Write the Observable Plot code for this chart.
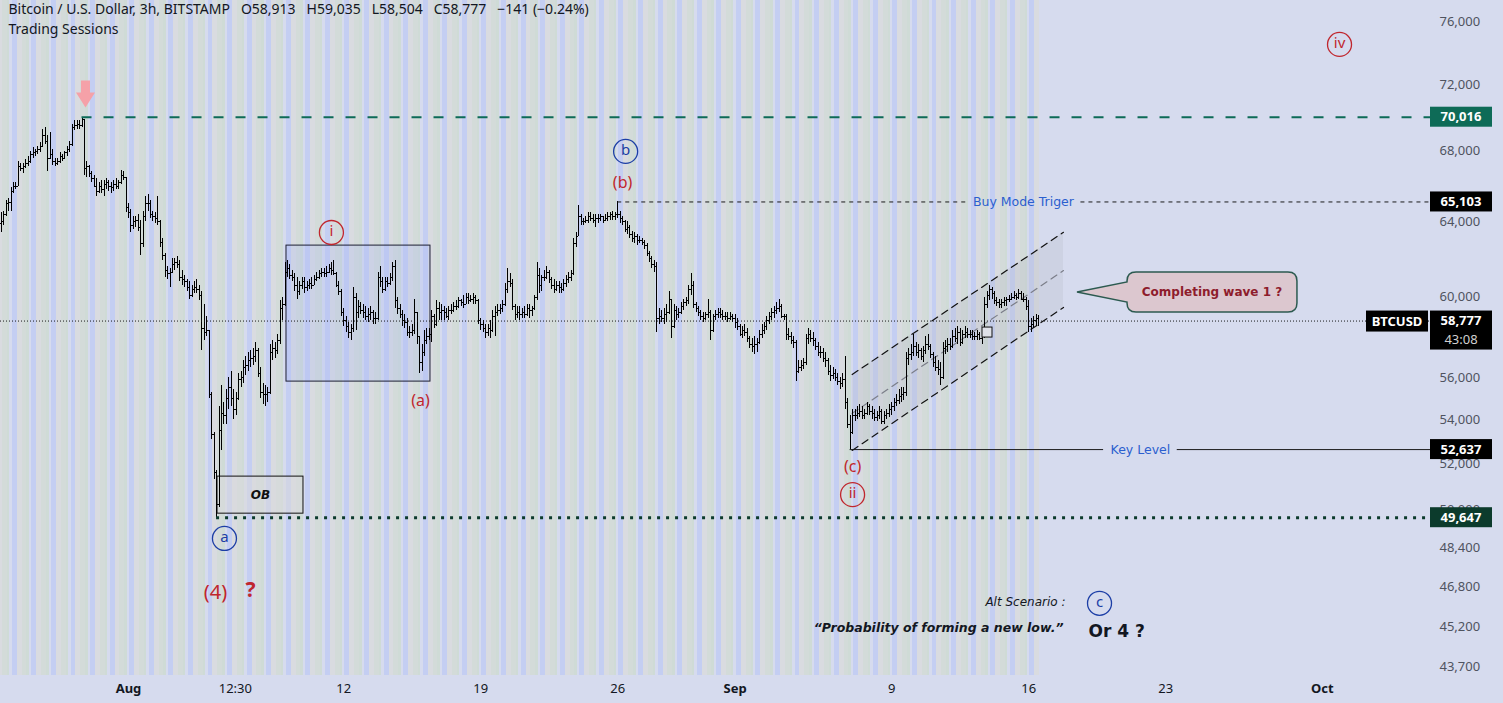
<!DOCTYPE html>
<html>
<head>
<meta charset="utf-8">
<script src="https://cdn.jsdelivr.net/npm/d3@7"></script>
<script src="https://cdn.jsdelivr.net/npm/@observablehq/plot@0.6"></script>
<style>
  html, body { margin:0; padding:0; background:#d6dbee; }
  #chart { width:1503px; height:703px; overflow:hidden; }
  #chart svg { display:block; }
</style>
</head>
<body>
<div id="chart"></div>
<script>
// ================= DATA =================
// BTCUSD 3h bars, prices in thousands of USD; open of a bar = previous close
const firstBarTime = "2024-07-25T12:00Z";
const barHours = 3;
const firstOpen = 63.9;

const highs = [
 64.5,64.6,65.2,65.3,
 65.9,66.2,66.2,67.4,67.3,67.3,67.5,67.7,
 68.0,68.2,68.1,68.3,68.5,69.3,69.4,68.9,
 69.1,68.1,67.6,67.6,67.9,67.8,68.0,68.3,
 68.6,69.6,69.8,69.8,69.8,70.016,69.9,67.4,
 67.2,66.8,66.6,66.4,66.2,66.3,66.3,66.4,
 66.3,66.2,66.3,66.4,66.3,66.9,66.8,66.5,
 65.0,64.7,64.3,64.3,64.4,64.1,64.6,65.4,
 65.5,65.2,64.6,64.5,65.4,64.1,63.1,62.3,
 61.6,61.5,62.0,62.0,62.1,61.9,61.4,61.1,
 60.9,60.8,60.6,60.8,60.9,60.6,60.3,59.6,
 59.0,58.3,55.3,53.4,51.7,54.6,55.6,54.8,
 55.4,56.0,56.3,55.4,55.3,56.2,56.3,56.8,
 57.0,57.2,57.3,57.4,57.7,57.4,56.5,55.7,
 55.6,55.5,57.6,57.8,57.7,58.1,59.8,60.0,
 61.8,61.9,61.7,61.4,61.2,61.0,60.8,61.0,
 61.0,60.8,60.9,61.0,61.1,61.3,61.4,61.5,
 61.5,61.6,61.7,61.8,61.9,61.3,60.8,60.4,
 59.4,59.0,58.7,58.6,60.5,60.2,59.8,59.7,
 59.6,59.5,59.4,59.5,59.3,59.2,61.3,61.6,
 61.0,61.0,61.0,61.2,61.8,61.9,60.0,59.6,
 59.3,59.1,58.9,58.5,58.6,59.9,59.2,58.0,
 57.6,58.3,58.4,58.4,59.3,59.1,59.8,59.7,
 59.6,59.5,59.4,59.5,59.6,59.7,59.8,60.0,
 59.9,60.1,60.2,60.2,60.1,60.2,60.1,59.9,
 58.9,58.8,58.6,58.6,58.8,59.3,59.5,59.6,
 59.6,59.8,60.7,61.5,61.2,60.9,59.6,59.5,
 59.5,59.4,59.5,59.6,59.6,59.5,60.1,61.8,
 61.5,61.1,61.4,61.6,61.4,61.0,60.9,60.8,
 60.8,60.7,60.9,61.1,61.3,61.4,63.1,63.4,
 64.9,64.4,64.2,64.3,64.5,64.5,64.4,64.4,
 64.4,64.4,64.3,64.4,64.5,64.5,64.6,64.5,
 65.103,64.6,64.3,64.1,64.0,63.8,63.5,63.4,
 63.3,63.2,63.1,63.0,62.8,62.4,62.1,61.9,
 61.8,59.4,59.3,59.4,59.6,60.3,59.9,59.6,
 59.5,59.4,59.7,59.9,60.0,60.6,61.2,60.8,
 59.7,59.5,59.3,59.2,59.2,59.9,59.3,59.1,
 59.3,59.4,59.4,59.3,59.2,59.2,59.2,59.1,
 59.1,58.9,58.6,58.5,58.6,58.4,58.0,57.9,
 58.0,57.9,58.3,58.6,58.7,59.0,59.2,59.4,
 59.5,59.7,59.9,59.6,59.1,59.1,58.4,58.2,
 58.0,57.8,56.8,56.8,56.9,58.1,58.4,58.3,
 58.2,57.9,57.7,57.5,57.4,57.2,56.9,56.6,
 56.5,56.4,56.2,56.0,56.2,57.0,55.0,54.2,
 54.5,54.5,54.6,54.7,54.6,54.5,54.8,54.7,
 54.6,54.5,54.4,54.6,54.5,54.4,54.5,54.7,
 54.8,55.0,55.2,55.4,55.5,55.5,57.2,57.4,
 57.6,58.1,57.7,57.6,57.4,57.5,58.0,58.1,
 57.6,57.2,57.0,56.8,56.7,57.7,57.8,57.9,
 57.9,58.3,58.4,58.5,58.4,58.3,58.5,58.4,
 58.3,58.3,58.2,58.3,58.2,58.2,60.0,60.3,
 60.6,60.5,60.3,60.0,59.9,59.9,60.0,60.0,
 60.1,60.2,60.3,60.2,60.4,60.3,60.2,60.0,
 59.8,58.9,59.0,59.1,59.035
];
const lows = [
 63.4,63.8,64.3,64.6,
 64.6,65.6,65.8,66.0,66.8,66.7,67.0,67.1,
 67.3,67.6,67.7,67.8,67.9,68.2,68.4,66.8,
 67.5,67.2,67.1,67.2,67.3,67.4,67.5,67.7,
 67.9,68.3,69.2,69.3,69.3,69.4,66.6,66.5,
 66.5,66.2,65.9,65.4,65.6,65.6,65.4,65.8,
 65.7,65.6,65.7,65.8,65.8,66.1,66.3,64.5,
 64.2,63.4,63.6,63.7,63.5,62.2,62.6,64.0,
 64.6,64.2,64.0,63.9,63.8,62.6,61.9,61.0,
 60.9,60.5,61.2,61.4,61.5,60.8,60.6,60.5,
 60.3,59.9,60.0,60.2,60.2,59.8,57.3,57.8,
 58.0,55.0,53.1,51.3,49.647,50.1,52.6,53.8,
 53.8,54.5,54.6,54.0,54.2,54.9,55.5,55.7,
 56.1,56.3,56.5,56.6,56.7,56.0,55.0,54.7,
 54.6,54.8,55.2,56.8,56.9,57.1,57.6,58.8,
 59.5,61.0,60.9,60.8,60.3,59.9,60.1,60.4,
 60.2,60.3,60.4,60.4,60.6,60.8,60.9,61.0,
 61.0,61.0,61.2,61.1,61.1,60.5,60.1,59.0,
 58.5,58.2,57.9,57.8,58.2,58.3,58.9,59.1,
 58.9,58.8,58.7,58.8,58.6,58.6,58.8,60.5,
 60.2,60.3,60.5,60.6,60.8,59.4,59.1,58.9,
 58.5,58.4,58.0,57.9,58.0,58.1,57.6,56.2,
 56.3,57.0,57.6,57.8,57.7,58.4,58.5,58.8,
 58.8,58.8,58.9,58.8,59.1,59.2,59.3,59.4,
 59.5,59.4,59.6,59.6,59.7,59.6,59.6,58.6,
 58.3,58.2,57.9,58.0,57.9,58.2,58.0,59.0,
 59.1,59.2,59.5,60.2,60.5,59.3,58.8,58.9,
 58.8,58.9,58.9,59.0,58.9,59.0,59.3,59.8,
 60.2,60.3,60.8,60.9,60.7,60.4,60.2,60.3,
 60.2,60.2,60.3,60.5,60.7,60.8,61.1,62.6,
 63.2,63.8,63.8,63.9,63.9,64.0,63.9,63.7,
 63.9,64.0,63.9,64.0,64.0,64.1,64.1,64.1,
 64.2,63.9,63.8,63.4,63.3,63.1,62.9,62.8,
 62.7,62.8,62.7,62.5,62.1,61.8,61.5,61.3,
 58.2,58.6,58.7,58.6,58.7,59.1,57.9,58.4,
 58.8,58.9,59.1,59.3,59.5,59.6,60.1,59.4,
 59.2,59.0,58.8,58.7,58.8,58.9,57.8,58.2,
 58.8,58.9,58.9,58.8,58.8,58.7,58.8,58.7,
 58.4,58.3,58.0,57.9,58.0,57.7,57.4,57.2,
 57.1,57.2,57.6,57.9,58.1,58.3,58.6,58.8,
 58.9,59.1,59.2,58.9,58.8,57.8,57.8,57.6,
 57.4,55.8,56.2,56.3,56.4,56.6,57.6,57.7,
 57.5,57.3,57.0,56.9,56.7,56.5,56.1,55.8,
 55.9,55.8,55.6,55.4,55.5,54.5,53.6,52.637,
 53.3,53.9,54.0,54.1,54.0,54.0,54.2,54.2,
 54.0,53.9,53.9,54.0,53.8,53.8,54.0,54.1,
 54.2,54.4,54.6,54.7,54.8,54.9,55.1,56.6,
 56.8,57.0,57.0,56.9,56.8,56.7,57.1,57.3,
 56.9,56.5,56.3,56.1,55.6,55.9,57.1,57.2,
 57.3,57.4,57.7,57.6,57.5,57.6,57.9,57.9,
 57.9,57.8,57.8,57.8,57.8,57.6,57.9,59.4,
 59.8,59.9,59.6,59.5,59.4,59.4,59.5,59.5,
 59.7,59.8,59.9,59.8,59.9,59.8,59.7,59.3,
 58.2,58.2,58.4,58.5,58.504
];
const closes = [
 64.0,64.4,65.0,65.1,
 65.7,66.0,66.0,67.1,67.0,67.1,67.3,67.4,
 67.8,67.9,68.0,68.1,68.3,68.9,68.6,67.6,
 67.8,67.4,67.3,67.4,67.7,67.6,67.9,68.1,
 68.4,69.4,69.5,69.6,69.5,69.9,67.0,67.1,
 66.7,66.4,66.0,65.7,66.0,65.8,66.1,66.2,
 66.0,65.9,66.1,66.0,66.2,66.6,66.5,64.8,
 64.5,63.8,64.0,64.1,63.7,62.8,64.3,65.0,
 65.0,64.4,64.3,64.2,64.0,62.9,62.2,61.4,
 61.2,61.3,61.7,61.8,61.7,61.0,60.9,60.8,
 60.5,60.1,60.4,60.5,60.4,60.1,58.4,58.2,
 58.3,55.2,53.3,51.6,50.2,53.5,54.3,54.2,
 55.0,55.5,55.0,54.5,55.0,55.9,56.0,56.5,
 56.6,56.8,56.9,57.0,57.3,56.2,55.3,55.2,
 55.2,55.3,57.2,57.4,57.3,57.8,59.4,59.6,
 61.3,61.5,61.1,61.0,60.6,60.3,60.6,60.8,
 60.5,60.6,60.7,60.6,60.9,61.0,61.2,61.3,
 61.2,61.3,61.5,61.4,61.2,60.6,60.3,59.2,
 58.8,58.5,58.2,58.4,60.0,59.2,59.5,59.3,
 59.2,59.0,59.1,59.2,58.9,58.9,61.0,60.8,
 60.4,60.8,60.7,61.0,61.6,59.8,59.4,59.1,
 58.8,58.7,58.2,58.2,58.3,59.2,58.0,56.7,
 57.2,57.8,58.0,58.1,59.0,58.6,59.4,59.2,
 59.3,59.2,59.0,59.3,59.3,59.5,59.5,59.8,
 59.7,59.6,60.0,59.8,59.9,60.0,59.8,58.8,
 58.6,58.4,58.2,58.4,58.3,59.0,59.2,59.3,
 59.4,59.6,60.4,60.8,60.7,59.5,59.1,59.2,
 59.1,59.2,59.1,59.4,59.3,59.4,60.0,61.1,
 60.6,61.0,61.0,61.3,60.9,60.6,60.4,60.6,
 60.5,60.4,60.7,60.9,61.0,61.2,62.8,63.2,
 64.3,64.0,64.0,64.1,64.3,64.2,64.1,64.2,
 64.2,64.3,64.1,64.2,64.3,64.4,64.3,64.4,
 64.4,64.2,64.0,63.6,63.7,63.3,63.1,63.2,
 63.0,63.0,62.9,62.7,62.3,62.0,61.7,61.6,
 58.9,59.0,58.9,59.1,59.2,59.9,58.5,59.3,
 59.1,59.2,59.5,59.7,59.8,60.4,60.6,59.6,
 59.4,59.2,59.0,58.9,59.1,59.2,58.3,59.0,
 59.1,59.2,59.1,59.0,59.0,58.9,59.0,58.9,
 58.7,58.5,58.1,58.3,58.2,57.9,57.6,57.5,
 57.6,57.7,58.1,58.3,58.5,58.8,59.0,59.2,
 59.3,59.4,59.5,59.0,59.0,58.1,58.0,57.8,
 57.7,56.3,56.5,56.6,56.7,57.9,58.1,57.9,
 57.8,57.5,57.2,57.2,56.9,56.8,56.3,56.1,
 56.2,56.0,55.8,55.7,55.9,54.8,53.8,53.4,
 54.2,54.2,54.3,54.4,54.2,54.3,54.6,54.4,
 54.3,54.1,54.2,54.4,53.9,54.2,54.3,54.5,
 54.6,54.8,54.9,55.1,55.2,55.3,56.9,57.1,
 57.2,57.5,57.2,57.3,57.0,57.3,57.6,57.5,
 57.1,56.7,56.5,56.4,56.0,57.4,57.5,57.6,
 57.5,58.0,57.9,58.2,57.7,58.1,58.2,58.1,
 58.1,58.0,58.0,58.1,57.9,58.0,59.6,60.1,
 60.4,60.2,59.8,59.7,59.6,59.7,59.8,59.9,
 59.9,60.0,60.1,60.0,60.2,59.9,59.9,59.5,
 58.5,58.6,58.8,58.913,58.777
];

// trading sessions (chart-local hours)
const sessionNames  = ["Tokyo", "London", "New York"];
const sessionStart  = [3, 10.5, 16.5];
const sessionEnd    = [9, 18.5, 23];

// axes
const yTicks = [76000,72000,68000,64000,60000,56000,54000,52000,50000,48400,46800,45200,43700];
const xTickDates  = ["2024-08-01","2024-08-06T11:00Z","2024-08-12","2024-08-19","2024-08-26","2024-09-01","2024-09-09","2024-09-16","2024-09-23","2024-10-01"];
const xTickLabels = ["Aug","12:30","12","19","26","Sep","9","16","23","Oct"];
const monthLabels = ["Aug","Sep","Oct"];

// horizontal levels
const levelPrices = [70016, 65103, 58777, 52637, 49647];
const levelFrom   = ["2024-07-29T15:00Z","2024-08-26T00:00Z","2024-07-25T11:01Z","2024-09-06T21:00Z","2024-08-05T12:00Z"];
const levelLabels = ["", "Buy Mode Triger", "", "Key Level", ""];
const levelLabelAt= ["", "2024-09-15T17:30Z", "", "2024-09-21T17:00Z", ""];
const levelTags   = ["70,016","65,103","58,777","52,637","49,647"];

// wave labels
const circleTexts  = ["a","b","c","i","ii","iv"];
const circleDates  = ["2024-08-05T21:40Z","2024-08-26T09:40Z","2024-09-19T14:50Z","2024-08-11T08:50Z","2024-09-07T00:00Z","2024-10-01T21:10Z"];
const circlePrices = [48770, 67990, 46130, 63420, 50640, 74530];
const circleDegree = ["minor","minor","minor","minute","minute","minute"];

const parenTexts  = ["(b)","(a)","(c)","(4)","?"];
const parenDates  = ["2024-08-26T05:55Z","2024-08-15T22:05Z","2024-09-07T00:00Z","2024-08-05T10:40Z","2024-08-07T05:40Z"];
const parenPrices = [66200, 54900, 51880, 46560, 46640];

// boxes
const boxNames  = ["wave i range","OB","entry"];
const boxFrom   = ["2024-08-09T01:45Z","2024-08-05T13:10Z","2024-09-13T15:20Z"];
const boxTo     = ["2024-08-16T10:20Z","2024-08-09T22:35Z","2024-09-14T03:35Z"];
const boxLow    = [55800, 49820, 57950];
const boxHigh   = [62710, 51430, 58450];

// rising channel
const channelDates = ["2024-09-06T23:30Z","2024-09-17T18:40Z"];
const channelUpper = [56140, 63430];
const channelMid   = [54300, 61380];
const channelLower = [52600, 59470];

// marker arrow at the top
const arrowDate = "2024-07-29T19:15Z";
const arrowTipPrice = 70600;

// free texts
const noteTexts  = ["Alt Scenario :", "\u201CProbability of forming a new low.\u201D", "Or 4 ?"];
const noteDates  = ["2024-09-17T21:05Z","2024-09-17T18:40Z","2024-09-19T01:15Z"];
const notePrices = [46160, 45180, 45030];

// callout
const calloutText = "Completing wave 1 ?";
const calloutTip  = ["2024-09-18T11:50Z", 60230];
const calloutBox  = ["2024-09-21T01:10Z","2024-09-29T17:35Z", 59210, 61280];

const SP = "\u00a0\u00a0\u00a0";
const header1 = "Bitcoin / U.S. Dollar, 3h, BITSTAMP" + SP + "O58,913" + SP + "H59,035" + SP + "L58,504" + SP + "C58,777" + SP + "\u2212141 (\u22120.24%)";
const header2 = "Trading Sessions";

// ================= CHART =================
const W = 1503, H = 703, mR = 73, mB = 28;
const FONT = "'Noto Sans', 'DejaVu Sans', sans-serif";
const FONT2 = "'DejaVu Sans', 'Noto Sans', sans-serif";
const HOUR = 3600e3;
const xDomain = [new Date("2024-07-25T11:01Z"), new Date("2024-10-06T12:45Z")];
const yDomain = [43358, 77394];

const t0 = +new Date(firstBarTime);
const bars = closes.map((c, i) => ({
  t: new Date(t0 + i * barHours * HOUR),
  o: (i ? closes[i - 1] : firstOpen) * 1000,
  h: highs[i] * 1000, l: lows[i] * 1000, c: c * 1000
}));

// session tint per bar
const tint = {none: null, T: "#c4cef2", L: "#d9dbe0", N: "#cfdbd6", LN: "#d3dbd9"};
const stripes = bars.map(b => {
  const a = b.t.getUTCHours(), z = a + barHours;
  const inS = sessionNames.map((_, k) => sessionStart[k] < z && sessionEnd[k] > a);
  const key = inS[0] ? "T" : (inS[1] && inS[2]) ? "LN" : inS[1] ? "L" : inS[2] ? "N" : "none";
  return {x1: new Date(+b.t - 1.5 * HOUR), x2: new Date(+b.t + 1.5 * HOUR), fill: tint[key]};
}).filter(s => s.fill);

// standalone x scale (for gaps around line labels)
const sx0 = Plot.scale({x: {type: "utc", domain: xDomain, range: [0, W - mR]}});
const ctx = document.createElement("canvas").getContext("2d");
ctx.font = "12.5px 'DejaVu Sans'";

const levelStyles = [
  {stroke: "#0d6b57", strokeWidth: 2, strokeDasharray: "10,12"},
  {stroke: "#1a1a1a", strokeWidth: 1, strokeDasharray: "4,4"},
  {stroke: "#1a1a1a", strokeWidth: 1, strokeDasharray: "1,2"},
  {stroke: "#1a1a1a", strokeWidth: 1},
  {stroke: "#0c3b2c", strokeWidth: 3, strokeDasharray: "3,6"}
];
const levelMarks = [];
const levelTextData = [];
levelPrices.forEach((p, i) => {
  const from = new Date(levelFrom[i]), to = xDomain[1];
  let segs = [{y: p, x1: from, x2: to}];
  if (levelLabels[i]) {
    const cx = sx0.apply(new Date(levelLabelAt[i]));
    const hw = ctx.measureText(levelLabels[i]).width / 2 + 7;
    segs = [{y: p, x1: from, x2: sx0.invert(cx - hw)}, {y: p, x1: sx0.invert(cx + hw), x2: to}];
    levelTextData.push({x: new Date(levelLabelAt[i]), y: p, text: levelLabels[i]});
  }
  levelMarks.push(Plot.ruleY(segs, {y: "y", x1: "x1", x2: "x2", ...levelStyles[i]}));
});

const circles = circleTexts.map((t, i) => ({text: t, x: new Date(circleDates[i]), y: circlePrices[i], color: circleDegree[i] === "minor" ? "#1c3ea6" : "#c0262d"}));
const parens = parenTexts.map((t, i) => ({text: t, x: new Date(parenDates[i]), y: parenPrices[i]}));
const boxes = boxNames.map((n, i) => ({name: n, x1: new Date(boxFrom[i]), x2: new Date(boxTo[i]), y1: boxLow[i], y2: boxHigh[i]}));
const chan = channelDates.map((d, i) => ({x: new Date(d), up: channelUpper[i], mid: channelMid[i], lo: channelLower[i]}));
const notes = noteTexts.map((t, i) => ({text: t, x: new Date(noteDates[i]), y: notePrices[i]}));
const xTicks = xTickDates.map(d => new Date(d));
const xLabelOf = new Map(xTicks.map((d, i) => [+d, xTickLabels[i]]));

const fatArrow = {draw(c, l) {
  const hw = 9.5, sw = 4.5, hl = 15;
  c.moveTo(-sw, 0); c.lineTo(sw, 0); c.lineTo(sw, -(l - hl)); c.lineTo(hw, -(l - hl));
  c.lineTo(0, -l); c.lineTo(-hw, -(l - hl)); c.lineTo(-sw, -(l - hl)); c.closePath();
}};

const chart = Plot.plot({
  width: W, height: H,
  marginLeft: 0, marginRight: mR, marginTop: 0, marginBottom: mB,
  style: {background: "#d6dbee", fontFamily: FONT, color: "#131722"},
  x: {type: "utc", domain: xDomain},
  y: {type: "log", domain: yDomain},
  color: {type: "identity"},
  marks: [
    Plot.rect(stripes, {x1: "x1", x2: "x2", fill: "fill", shapeRendering: "crispEdges"}),
    Plot.axisY({anchor: "right", ticks: yTicks, tickSize: 0, tickPadding: 9, tickFormat: d3.format(","), fontSize: 13, color: "#4f535f"}),
    Plot.axisX({ticks: xTicks.filter(d => !monthLabels.includes(xLabelOf.get(+d))), tickFormat: d => xLabelOf.get(+d), tickSize: 0, tickPadding: 8, fontSize: 13, color: "#131722"}),
    Plot.axisX({ticks: xTicks.filter(d => monthLabels.includes(xLabelOf.get(+d))), tickFormat: d => xLabelOf.get(+d), tickSize: 0, tickPadding: 8, fontSize: 13, fontWeight: "bold", color: "#131722"}),
    // boxes
    Plot.rect(boxes.filter(b => b.name === "wave i range"), {x1: "x1", x2: "x2", y1: "y1", y2: "y2", fill: "#a9b6f5", fillOpacity: 0.25, stroke: "#1d1f33", strokeWidth: 1}),
    Plot.rect(boxes.filter(b => b.name === "OB"), {x1: "x1", x2: "x2", y1: "y1", y2: "y2", fill: "#d8d8dc", fillOpacity: 0.6, stroke: "#111", strokeWidth: 1}),
    Plot.text(boxes.filter(b => b.name === "OB"), {x: d => new Date((+d.x1 + +d.x2) / 2), y: d => Math.sqrt(d.y1 * d.y2), text: d => d.name, fontSize: 12, fontStyle: "italic", fontWeight: "bold", fontFamily: FONT2, fill: "#111"}),
    // channel
    Plot.areaY(chan, {x: "x", y1: "lo", y2: "up", fill: "#b8bccb", fillOpacity: 0.3}),
    Plot.line(chan, {x: "x", y: "up", stroke: "#111", strokeWidth: 1.2, strokeDasharray: "7,5"}),
    Plot.line(chan, {x: "x", y: "mid", stroke: "#7a7d88", strokeWidth: 1.2, strokeDasharray: "7,5"}),
    Plot.line(chan, {x: "x", y: "lo", stroke: "#111", strokeWidth: 1.2, strokeDasharray: "7,5"}),
    // price bars
    Plot.ruleX(bars, {x: "t", y1: "l", y2: "h", stroke: "#000", strokeWidth: 1, shapeRendering: "crispEdges"}),
    Plot.ruleY(bars, {y: "o", x1: d => new Date(+d.t - 1.5 * HOUR), x2: "t", stroke: "#000", strokeWidth: 1, shapeRendering: "crispEdges"}),
    Plot.ruleY(bars, {y: "c", x1: "t", x2: d => new Date(+d.t + 1.5 * HOUR), stroke: "#000", strokeWidth: 1, shapeRendering: "crispEdges"}),
    Plot.rect(boxes.filter(b => b.name === "entry"), {x1: "x1", x2: "x2", y1: "y1", y2: "y2", fill: "#dfe1e8", stroke: "#111", strokeWidth: 1}),
    // levels
    ...levelMarks,
    Plot.text(levelTextData, {x: "x", y: "y", text: "text", fontSize: 12.5, fontFamily: FONT2, fill: "#2b5fcf"}),
    // arrow
    Plot.vector([{x: new Date(arrowDate), y: arrowTipPrice}], {x: "x", y: "y", length: 27, rotate: 180, anchor: "end", shape: fatArrow, fill: "#f5a1a8", stroke: "none"}),
    // wave labels
    Plot.dot(circles, {x: "x", y: "y", r: 12, stroke: "color", strokeWidth: 1.3, fill: "none"}),
    Plot.text(circles, {x: "x", y: "y", text: "text", fill: "color", fontSize: 15, dy: -1}),
    Plot.text(parens.filter(d => d.text.length === 3 && d.text !== "(4)"), {x: "x", y: "y", text: "text", fill: "#c0262d", fontSize: 16}),
    Plot.text(parens.filter(d => d.text === "(4)"), {x: "x", y: "y", text: "text", fill: "#c0262d", fontSize: 20}),
    Plot.text(parens.filter(d => d.text === "?"), {x: "x", y: "y", text: "text", fill: "#c0262d", fontSize: 21, fontWeight: "bold"}),
    // notes
    Plot.text(notes.slice(0, 1), {x: "x", y: "y", text: "text", textAnchor: "end", fontSize: 12, fontStyle: "italic", fontFamily: FONT2, fill: "#131722"}),
    Plot.text(notes.slice(1, 2), {x: "x", y: "y", text: "text", textAnchor: "end", fontSize: 12.5, fontStyle: "italic", fontWeight: "bold", fontFamily: FONT2, fill: "#131722"}),
    Plot.text(notes.slice(2, 3), {x: "x", y: "y", text: "text", textAnchor: "start", fontSize: 17, fontWeight: "bold", fontFamily: FONT2, fill: "#131722"}),
    // header
    Plot.text([header1], {frameAnchor: "top-left", dx: 8, dy: 4, lineAnchor: "top", textAnchor: "start", fontSize: 14, fill: "#131722"}),
    Plot.text([header2], {frameAnchor: "top-left", dx: 8, dy: 24, lineAnchor: "top", textAnchor: "start", fontSize: 14, fill: "#131722"})
  ]
});
document.getElementById("chart").appendChild(chart);

// ---------- overlays drawn with the plot's own scales ----------
const sx = chart.scale("x"), sy = chart.scale("y");
const svg = d3.select(chart);
const right = W - mR;

// callout
(() => {
  const tx = sx.apply(new Date(calloutTip[0])), ty = sy.apply(calloutTip[1]);
  const x1 = sx.apply(new Date(calloutBox[0])), x2 = sx.apply(new Date(calloutBox[1]));
  const y1 = sy.apply(calloutBox[3]), y2 = sy.apply(calloutBox[2]);
  const r = 9, pTop = y1 + 10, pBot = y2 - 10;
  const d = `M${x1 + r},${y1} H${x2 - r} Q${x2},${y1} ${x2},${y1 + r} V${y2 - r} Q${x2},${y2} ${x2 - r},${y2} H${x1 + r} Q${x1},${y2} ${x1},${y2 - r} V${pBot} L${tx},${ty} L${x1},${pTop} V${y1 + r} Q${x1},${y1} ${x1 + r},${y1} Z`;
  const g = svg.append("g");
  g.append("path").attr("d", d).attr("fill", "#dcc7cf").attr("stroke", "#2c5a50").attr("stroke-width", 1.5);
  g.append("text").attr("x", (x1 + x2) / 2).attr("y", (y1 + y2) / 2).attr("dy", "0.35em")
    .attr("text-anchor", "middle").attr("font-family", FONT2).attr("font-size", 12).attr("font-weight", "bold")
    .attr("fill", "#8e1c2c").text(calloutText);
})();

// price tags in the right scale
const tagFill = ["#0e6b57", "#000", "#000", "#000", "#0c3b2c"];
const tg = svg.append("g").attr("font-family", FONT);
levelPrices.forEach((p, i) => {
  const y = sy.apply(p);
  const tall = levelTags[i] === "58,777";
  const hgt = tall ? 39 : 20;
  tg.append("rect").attr("x", right).attr("y", y - 10).attr("width", 62).attr("height", hgt).attr("fill", tagFill[i]);
  tg.append("text").attr("x", right + 31).attr("y", y).attr("dy", "0.35em").attr("text-anchor", "middle")
    .attr("font-size", 13).attr("font-weight", "bold").attr("fill", "#fff").text(levelTags[i]);
  if (tall) {
    tg.append("text").attr("x", right + 31).attr("y", y + 19).attr("dy", "0.35em").attr("text-anchor", "middle")
      .attr("font-size", 13).attr("fill", "#d0d0d0").text("43:08");
    tg.append("rect").attr("x", right - 64).attr("y", y - 10).attr("width", 62).attr("height", 21).attr("fill", "#000");
    tg.append("text").attr("x", right - 33).attr("y", y + 0.5).attr("dy", "0.35em").attr("text-anchor", "middle")
      .attr("font-size", 13).attr("font-weight", "bold").attr("fill", "#fff").text("BTCUSD");
  }
});
</script>
</body>
</html>
